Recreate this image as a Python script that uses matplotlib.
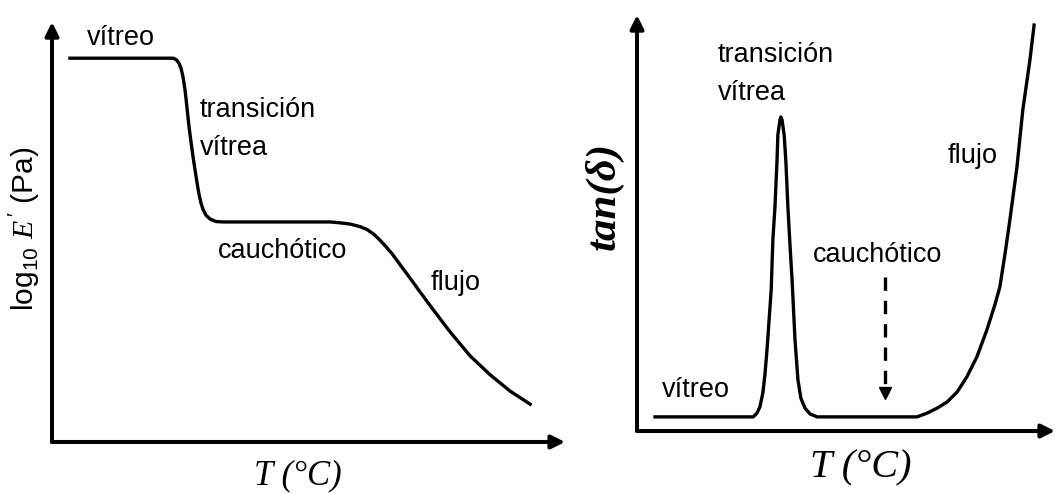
import matplotlib

matplotlib.use("Agg")
import matplotlib.pyplot as plt

# Storage modulus curve (arbitrary units: temperature 0-100, log10 E' 0-100)
modulus_t = [3.5, 23.6, 24.17, 24.76, 25.15, 25.54, 25.93, 26.32, 26.71,
             27.10, 27.49, 27.88, 28.27, 28.65, 29.04, 29.43, 30.02, 30.80,
             31.97, 33.33, 54.2, 56.1, 58.1, 60.0, 61.4, 62.8, 63.9, 65.1,
             66.3, 67.8, 69.8, 71.7, 74.3, 77.6, 81.5, 85.4, 89.3, 93.2]
modulus_e = [91.4, 91.4, 91.1, 90.2, 89.0, 86.9, 83.8, 79.5, 75.0,
             71.4, 67.9, 64.8, 61.7, 59.0, 56.9, 55.4, 54.0, 53.1,
             52.5, 52.4, 52.4, 52.2, 51.9, 51.3, 50.6, 49.4, 48.1, 46.5,
             44.8, 42.3, 39.0, 35.8, 31.5, 26.2, 20.5, 16.0, 12.1, 9.0]

# Loss tangent curve (same arbitrary units)
tand_t = [4.3, 27.8, 28.7, 29.4, 30.1, 30.6, 31.1, 32.1, 32.5, 33.0, 33.5,
          33.7, 34.2, 34.4, 34.7, 35.2, 35.6, 36.1, 36.6, 37.1, 37.8, 38.5,
          39.2, 40.2, 41.4, 43.1, 67.0, 69.4, 71.8, 74.2, 76.6, 78.9, 81.3,
          83.7, 85.6, 86.8, 88.0, 89.2, 90.9, 92.3, 94.0, 95.0]
tand_v = [3.4, 3.4, 4.3, 5.8, 9.1, 13.5, 19.5, 33.9, 45.9, 53.8, 65.1,
          71.2, 74.8, 75.5, 74.8, 71.2, 65.1, 53.8, 44.7, 36.3, 21.9, 12.3,
          7.9, 5.5, 4.1, 3.4, 3.4, 4.3, 5.5, 7.0, 9.4, 13.0, 17.8,
          24.3, 30.3, 34.6, 42.3, 50.7, 63.5, 77.2, 89.2, 97.6]

modulus_labels = [("vítreo", 6.8, 94.5), ("transición", 28.8, 77.4),
                  ("vítrea", 28.8, 68.3), ("cauchótico", 32.4, 43.8),
                  ("flujo", 73.7, 36.2)]
tand_labels = [("transición", 19.4, 88.7), ("vítrea", 19.4, 79.6),
               ("flujo", 74.2, 64.4), ("cauchótico", 42.1, 40.6),
               ("vítreo", 6.0, 8.2)]

# dashed pointer to the rubbery region
pointer_t = [59.3, 59.3]
pointer_v = [37.0, 9.1]

SANS = "Liberation Sans"
SERIF = "Liberation Serif"


def _arrow_axes(ax):
    for side in ax.spines.values():
        side.set_visible(False)
    ax.set_xticks([])
    ax.set_yticks([])
    ax.set_xlim(0, 100)
    ax.set_ylim(0, 100)
    style = dict(arrowstyle="-|>", color="black", lw=2.9,
                 mutation_scale=20, shrinkA=0, shrinkB=0)
    ax.annotate("", xy=(0, 1), xytext=(0, 0), xycoords="axes fraction",
                arrowprops=style, annotation_clip=False)
    ax.annotate("", xy=(1, 0), xytext=(0, 0), xycoords="axes fraction",
                arrowprops=style, annotation_clip=False)


def main():
    plt.rcParams["mathtext.fontset"] = "custom"
    plt.rcParams["mathtext.default"] = "regular"
    plt.rcParams["mathtext.rm"] = SANS
    plt.rcParams["mathtext.it"] = SERIF + ":italic"

    fig = plt.figure(figsize=(10.55, 4.94), dpi=100)
    ax1 = fig.add_axes([0.0493, 0.1053, 0.4863, 0.850])
    ax2 = fig.add_axes([0.6038, 0.1275, 0.3962, 0.842])

    for ax in (ax1, ax2):
        _arrow_axes(ax)

    ax1.plot(modulus_t, modulus_e, color="black", lw=2.4,
             solid_joinstyle="round")
    for text, x, y in modulus_labels:
        ax1.text(x, y, text, family=SANS, fontsize=19.5, ha="left",
                 va="baseline")
    ax1.text(48.0, -10.0, "T (°C)", family=SERIF, style="italic",
             fontsize=25, ha="center", va="baseline", clip_on=False)
    ax1.text(-5.3, 50.7, r"log$_{10}$ $\mathit{E}\,'$ (Pa)", family=SANS,
             fontsize=21.5, rotation=90, ha="center", va="center")

    ax2.plot(tand_t, tand_v, color="black", lw=2.4, solid_joinstyle="round")
    for text, x, y in tand_labels:
        ax2.text(x, y, text, family=SANS, fontsize=19.5, ha="left",
                 va="baseline")
    ax2.plot(pointer_t, pointer_v, color="black", lw=2.4, dashes=(4, 3))
    ax2.plot(pointer_t[1], pointer_v[1], marker="v", color="black",
             markersize=9)
    ax2.text(53.6, -11.1, "T (°C)", family=SERIF, style="italic",
             fontsize=29, ha="center", va="baseline", clip_on=False)
    ax2.text(-7.9, 56.5, "tan(δ)", family=SERIF, style="italic",
             weight="bold", fontsize=31, rotation=90, ha="center",
             va="center")

    fig.savefig("out.png", dpi=100, facecolor="white")
    plt.close(fig)
    return 0


if __name__ == "__main__":
    raise SystemExit(main())
